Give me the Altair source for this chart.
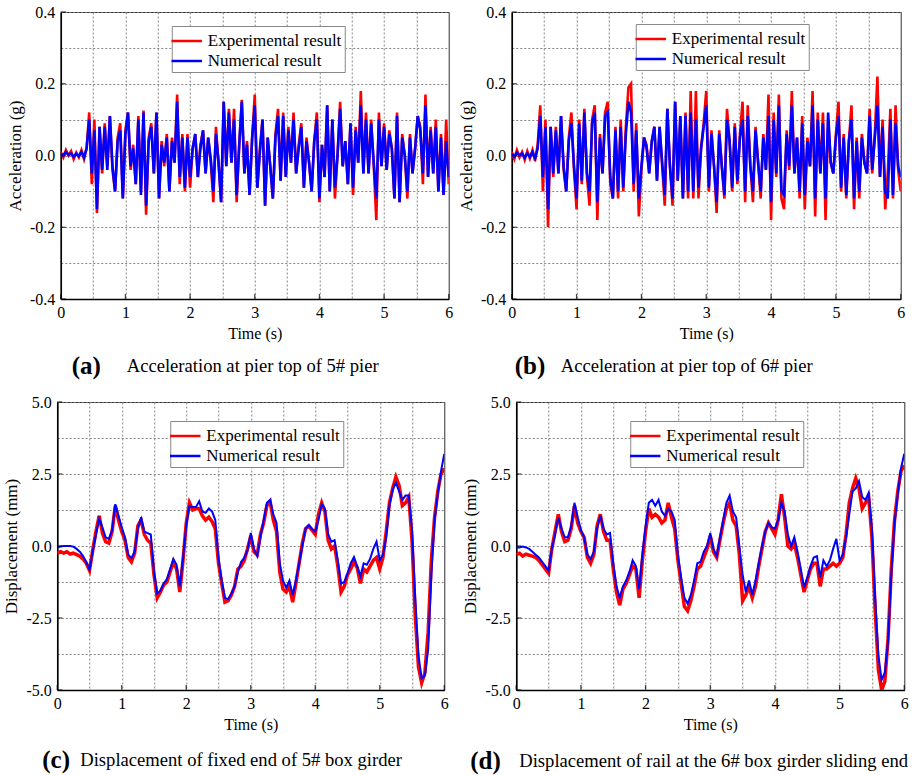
import altair as alt
import numpy as np
import pandas as pd

FONT = "Liberation Serif"
SERIES = ["Experimental result", "Numerical result"]
COLORS = ["#ff0000", "#0000ff"]

# sampling grids (s)
ACC_T = np.round(np.arange(151) * 0.04, 2)
DISP_T = np.round(np.arange(121) * 0.05, 2)

# pier-top acceleration of 5# pier (g)
ACC5_EXP = [
    0.010, -0.005, 0.015, 0.000, 0.012, -0.010, 0.008, -0.005, 0.015, -0.010,
    0.020, 0.120, -0.080, 0.100, -0.160, 0.080, -0.050, 0.090, -0.030, 0.110,
    -0.040, -0.100, 0.050, 0.090, -0.120, 0.070, 0.120, -0.040, 0.030, -0.080,
    0.110, -0.100, 0.125, -0.165, 0.050, 0.090, -0.050, 0.120, -0.120, 0.040,
    -0.030, 0.060, -0.100, 0.050, -0.020, 0.170, -0.080, 0.060, -0.100, 0.060,
    -0.090, 0.020, 0.060, -0.060, 0.030, 0.070, -0.050, 0.050, -0.020, -0.130,
    0.080, -0.020, -0.130, 0.150, -0.030, 0.130, -0.020, 0.130, -0.130, 0.030,
    0.155, -0.050, 0.040, -0.110, 0.050, 0.170, -0.090, 0.020, 0.100, -0.140,
    0.050, -0.030, -0.120, 0.060, 0.130, -0.070, 0.120, -0.060, 0.080, -0.020,
    0.120, -0.050, 0.030, 0.090, -0.090, 0.050, -0.020, -0.100, 0.040, 0.120,
    -0.130, 0.030, -0.060, 0.140, -0.100, 0.100, -0.120, 0.000, 0.150, -0.030,
    0.040, -0.080, 0.090, -0.110, 0.080, -0.020, 0.180, -0.050, 0.120, -0.050,
    0.100, -0.030, -0.180, 0.120, -0.030, 0.090, -0.040, 0.070, 0.020, -0.120,
    0.120, -0.130, 0.060, 0.000, -0.120, 0.060, -0.050, 0.020, 0.110, 0.080,
    -0.080, 0.170, -0.060, 0.080, -0.050, 0.100, -0.100, 0.060, -0.110, 0.100,
    -0.080,
]
ACC5_NUM = [
    0.005, 0.000, 0.010, 0.002, 0.006, -0.004, 0.005, -0.002, 0.010, -0.005,
    0.020, 0.100, -0.050, 0.070, -0.150, 0.080, -0.040, 0.080, -0.040, 0.110,
    -0.030, -0.100, 0.040, 0.070, -0.120, 0.060, 0.120, -0.030, 0.020, -0.080,
    0.100, -0.110, 0.120, -0.140, 0.040, 0.080, -0.050, 0.120, -0.120, 0.030,
    -0.020, 0.050, -0.100, 0.040, -0.020, 0.150, -0.060, 0.050, -0.090, 0.050,
    -0.060, 0.020, 0.060, -0.060, 0.020, 0.070, -0.050, 0.050, -0.010, -0.100,
    0.060, -0.020, -0.130, 0.150, -0.030, 0.120, -0.020, 0.100, -0.110, 0.030,
    0.150, -0.050, 0.030, -0.110, 0.050, 0.140, -0.090, 0.010, 0.100, -0.140,
    0.050, -0.030, -0.120, 0.050, 0.110, -0.070, 0.110, -0.060, 0.070, -0.020,
    0.100, -0.050, 0.020, 0.080, -0.090, 0.040, -0.020, -0.100, 0.040, 0.100,
    -0.120, 0.030, -0.060, 0.140, -0.100, 0.100, -0.090, 0.000, 0.130, -0.030,
    0.040, -0.080, 0.090, -0.090, 0.070, -0.020, 0.140, -0.050, 0.100, -0.050,
    0.090, -0.020, -0.120, 0.100, -0.030, 0.080, -0.040, 0.060, 0.020, -0.120,
    0.110, -0.130, 0.050, 0.000, -0.100, 0.050, -0.050, 0.020, 0.110, 0.070,
    -0.050, 0.140, -0.060, 0.070, -0.050, 0.080, -0.100, 0.050, -0.110, 0.040,
    -0.060,
]

# pier-top acceleration of 6# pier (g)
ACC6_EXP = [
    0.010, -0.010, 0.015, -0.005, 0.010, -0.012, 0.012, -0.008, 0.015, -0.015,
    0.030, 0.140, -0.100, 0.100, -0.200, 0.080, -0.060, 0.080, -0.050, 0.110,
    -0.040, -0.100, 0.050, 0.120, -0.040, -0.150, 0.100, -0.080, 0.130, -0.060,
    -0.140, 0.100, 0.140, -0.180, 0.060, -0.050, 0.120, 0.150, -0.080, -0.120,
    0.080, -0.120, 0.100, -0.100, 0.080, 0.190, 0.200, -0.100, 0.090, -0.170,
    -0.040, 0.050, 0.030, -0.050, 0.040, 0.080, -0.070, 0.080, -0.030, -0.140,
    0.130, -0.030, -0.140, 0.150, -0.070, 0.110, -0.120, 0.120, -0.120, 0.180,
    -0.120, 0.180, -0.120, 0.020, 0.090, 0.180, -0.100, 0.070, -0.030, -0.160,
    0.070, -0.030, -0.120, 0.130, 0.040, -0.100, 0.090, -0.080, 0.060, 0.150,
    -0.130, 0.140, -0.030, -0.130, 0.080, -0.020, -0.120, 0.060, -0.040, 0.170,
    -0.180, 0.120, -0.060, 0.170, -0.120, -0.150, 0.070, -0.040, 0.180, -0.050,
    0.050, -0.120, 0.110, -0.150, 0.050, -0.030, 0.180, -0.170, 0.120, -0.050,
    0.120, -0.180, 0.100, -0.020, -0.050, 0.060, 0.150, -0.100, 0.060, -0.120,
    0.040, 0.140, -0.150, 0.050, -0.120, 0.060, -0.020, -0.050, 0.130, -0.050,
    0.060, 0.220, -0.060, 0.100, -0.150, -0.050, 0.130, -0.120, 0.140, -0.040,
    -0.100,
]
ACC6_NUM = [
    0.005, -0.003, 0.008, 0.000, 0.006, -0.006, 0.006, -0.004, 0.010, -0.008,
    0.020, 0.110, -0.060, 0.080, -0.150, 0.080, -0.050, 0.070, -0.050, 0.110,
    -0.030, -0.100, 0.040, 0.090, -0.030, -0.120, 0.090, -0.070, 0.120, -0.050,
    -0.100, 0.090, 0.120, -0.130, 0.050, -0.050, 0.110, 0.120, -0.060, -0.120,
    0.070, -0.100, 0.080, -0.090, 0.060, 0.150, 0.120, -0.080, 0.070, -0.120,
    -0.030, 0.050, 0.020, -0.050, 0.040, 0.080, -0.070, 0.080, -0.020, -0.110,
    0.130, -0.030, -0.120, 0.150, -0.070, 0.110, -0.120, 0.110, -0.100, 0.120,
    -0.100, 0.100, -0.090, 0.020, 0.080, 0.140, -0.090, 0.060, -0.030, -0.130,
    0.060, -0.030, -0.110, 0.100, 0.040, -0.090, 0.080, -0.070, 0.050, 0.100,
    -0.100, 0.110, -0.030, -0.100, 0.070, -0.020, -0.100, 0.050, -0.040, 0.110,
    -0.130, 0.100, -0.050, 0.140, -0.100, -0.110, 0.060, -0.030, 0.140, -0.050,
    0.050, -0.100, 0.090, -0.110, 0.040, -0.030, 0.140, -0.120, 0.100, -0.050,
    0.090, -0.120, 0.120, -0.020, -0.050, 0.050, 0.110, -0.090, 0.050, -0.110,
    0.040, 0.100, -0.120, 0.040, -0.100, 0.050, -0.020, -0.050, 0.110, -0.040,
    0.050, 0.140, -0.060, 0.080, -0.100, -0.120, 0.100, -0.110, 0.090, -0.030,
    -0.060,
]

# displacement of fixed end of 5# box girder (mm)
DISP5_EXP = [
    -0.25, -0.20, -0.25, -0.20, -0.28, -0.25, -0.30, -0.35, -0.45, -0.60,
    -0.85, -0.15, 0.50, 1.05, 0.45, 0.15, 0.10, 0.50, 1.40, 0.90,
    0.50, 0.20, -0.40, -0.55, -0.25, 0.70, 0.90, 0.40, 0.20, 0.10,
    -1.00, -1.80, -1.60, -1.35, -1.25, -0.90, -0.55, -0.80, -1.60, -0.50,
    0.80, 1.50, 1.25, 1.30, 1.30, 1.05, 0.90, 1.00, 0.85, 0.60,
    -0.60, -1.30, -1.95, -1.90, -1.70, -1.40, -0.80, -0.70, -0.50, -0.10,
    0.35, -0.20, -0.30, 0.40, 0.80, 1.40, 1.55, 0.90, 0.50, -0.90,
    -1.50, -1.60, -1.40, -1.95, -1.30, -0.60, 0.10, 0.60, 0.70, 0.55,
    0.40, 1.10, 1.50, 1.20, 0.20, -0.10, 0.00, -0.70, -1.60, -1.40,
    -1.00, -0.80, -0.55, -0.75, -1.30, -0.80, -0.90, -0.70, -0.50, -0.40,
    -0.80, -0.40, 0.50, 1.50, 2.00, 2.40, 2.10, 1.40, 1.50, 1.70,
    0.20, -2.40, -4.20, -4.75, -4.40, -3.00, -0.50, 1.00, 1.90, 2.50,
    2.70,
]
DISP5_NUM = [
    -0.05, -0.02, 0.00, 0.00, 0.00, -0.02, -0.10, -0.20, -0.35, -0.55,
    -0.82, -0.20, 0.40, 0.95, 0.65, 0.30, 0.25, 0.55, 1.45, 1.05,
    0.65, 0.30, -0.30, -0.42, -0.20, 0.60, 1.00, 0.50, 0.45, 0.40,
    -0.90, -1.65, -1.55, -1.30, -1.15, -0.80, -0.45, -0.65, -1.40, -0.40,
    0.70, 1.40, 1.35, 1.35, 1.55, 1.20, 1.15, 1.30, 1.20, 0.90,
    -0.40, -1.20, -1.80, -1.85, -1.65, -1.40, -0.90, -0.55, -0.40, -0.15,
    0.45, -0.10, -0.35, 0.30, 0.90, 1.50, 1.60, 1.10, 0.80, -0.60,
    -1.20, -1.45, -1.20, -1.70, -1.20, -0.60, 0.00, 0.60, 0.72, 0.60,
    0.50, 0.90, 1.45, 1.30, 0.40, 0.15, 0.20, -0.50, -1.30, -1.25,
    -0.95, -0.60, -0.38, -0.70, -1.05, -0.60, -0.65, -0.45, -0.10, 0.15,
    -0.50, -0.30, 0.30, 1.40, 1.95, 2.20, 1.90, 1.60, 1.75, 1.75,
    0.60, -1.80, -3.80, -4.60, -4.50, -3.60, -1.00, 0.90, 1.80, 2.60,
    3.20,
]

# displacement of rail at the 6# box girder sliding end (mm)
DISP6_EXP = [
    -0.30, -0.25, -0.35, -0.28, -0.32, -0.35, -0.40, -0.50, -0.65, -0.80,
    -0.95, -0.10, 0.50, 1.10, 0.50, 0.15, 0.20, 0.60, 1.40, 0.80,
    0.50, 0.30, -0.40, -0.60, -0.30, 0.70, 1.10, 0.50, 0.20, 0.20,
    -0.80, -1.60, -2.05, -1.50, -1.30, -1.00, -0.70, -0.80, -1.80, -0.50,
    0.50, 1.30, 1.00, 1.10, 1.00, 0.80, 0.90, 1.50, 1.00, 0.60,
    -0.50, -1.30, -2.10, -2.25, -1.90, -1.40, -0.80, -0.70, -0.40, -0.10,
    0.35, -0.20, -0.40, 0.20, 0.80, 1.30, 1.50, 0.90, 0.70, -0.30,
    -1.90, -1.70, -1.40, -1.80, -1.40, -0.70, -0.10, 0.50, 0.80, 0.60,
    0.40, 0.90, 1.80, 1.00, 0.00, -0.10, 0.10, -0.40, -1.00, -1.60,
    -1.20, -0.80, -0.60, -0.60, -1.40, -0.80, -0.80, -0.70, -0.60, -0.70,
    -0.60, -0.40, 0.40, 1.50, 2.00, 2.35, 2.00, 1.30, 1.50, 1.70,
    0.30, -2.20, -4.30, -5.00, -4.70, -3.20, -0.80, 0.90, 1.90, 2.60,
    2.80,
]
DISP6_NUM = [
    -0.05, -0.05, -0.02, -0.05, -0.10, -0.20, -0.30, -0.40, -0.55, -0.70,
    -0.85, -0.10, 0.40, 1.00, 0.60, 0.30, 0.30, 0.70, 1.50, 1.00,
    0.55, 0.30, -0.30, -0.45, -0.20, 0.60, 1.05, 0.60, 0.40, 0.45,
    -0.60, -1.40, -1.80, -1.40, -1.20, -0.90, -0.50, -0.70, -1.50, -0.30,
    0.70, 1.50, 1.60, 1.40, 1.60, 1.20, 1.05, 1.30, 1.20, 0.90,
    -0.30, -1.10, -1.80, -2.00, -1.70, -1.20, -0.60, -0.55, -0.20, 0.00,
    0.45, -0.10, -0.35, 0.30, 0.90, 1.50, 1.75, 1.20, 1.00, 0.00,
    -1.00, -1.60, -1.20, -1.70, -1.20, -0.60, 0.00, 0.50, 0.80, 0.65,
    0.60, 0.90, 1.50, 1.20, 0.40, 0.00, 0.30, -0.20, -0.80, -1.45,
    -1.10, -0.70, -0.40, -0.35, -1.10, -0.50, -0.70, -0.50, -0.10, 0.25,
    -0.50, -0.30, 0.30, 1.10, 1.90, 2.00, 2.25, 1.70, 1.60, 1.85,
    0.60, -1.80, -3.80, -4.65, -4.40, -3.30, -1.00, 0.80, 1.80, 2.70,
    3.20,
]

# grid lines every half step, labelled/ticked on whole steps
X_GRID = [0, 0.5, 1, 1.5, 2, 2.5, 3, 3.5, 4, 4.5, 5, 5.5, 6]
X_TICKS = [0, 1, 2, 3, 4, 5, 6]
ACC_GRID = [-0.4, -0.3, -0.2, -0.1, 0.0, 0.1, 0.2, 0.3, 0.4]
ACC_TICKS = [-0.4, -0.2, 0.0, 0.2, 0.4]
DISP_GRID = [-5.0, -3.75, -2.5, -1.25, 0.0, 1.25, 2.5, 3.75, 5.0]
DISP_TICKS = [-5.0, -2.5, 0.0, 2.5, 5.0]


def frame(t, exp, num):
    n = len(t)
    return pd.DataFrame({
        "t": np.concatenate([t, t]),
        "v": list(exp) + list(num),
        "series": [SERIES[0]] * n + [SERIES[1]] * n,
    })


def panel(df, ytitle, ydom, ygrid, yticks, ylabel_expr, w, h, exp_w, num_w,
          leg_xy, tag, caption, tag_xy, cap_xy):
    color = alt.Color(
        "series:N",
        scale=alt.Scale(domain=SERIES, range=COLORS),
        legend=alt.Legend(
            title=None, orient="none", legendX=leg_xy[0], legendY=leg_xy[1],
            direction="vertical", symbolType="M-1.45,0H1.45", symbolSize=441,
            symbolStrokeWidth=2.5, labelFont=FONT, labelFontSize=17,
            labelColor="black", labelOffset=9, strokeColor="#888888",
            fillColor="white", padding=3, rowPadding=0, labelLimit=400,
        ),
    )
    x = alt.X(
        "t:Q",
        scale=alt.Scale(domain=[0, 6], nice=False, zero=False),
        axis=alt.Axis(
            values=X_GRID, title="Time (s)", labelFlush=False, labelOverlap=False,
            labelExpr="datum.value % 1 === 0 ? format(datum.value, 'd') : ''",
            labelPadding=5, titlePadding=5,
        ),
    )
    y = alt.Y(
        "v:Q",
        scale=alt.Scale(domain=ydom, nice=False, zero=False),
        axis=alt.Axis(
            values=ygrid, title=ytitle, labelFlush=False, labelOverlap=False,
            labelExpr=ylabel_expr, labelPadding=6, titlePadding=5,
            titleFontSize=17,
        ),
    )
    base = alt.Chart(df).encode(x=x, y=y, color=color)
    exp = base.transform_filter(alt.datum.series == SERIES[0]).mark_line(
        strokeWidth=exp_w, clip=True)
    num = base.transform_filter(alt.datum.series == SERIES[1]).mark_line(
        strokeWidth=num_w, clip=True)
    # short inward ticks on the bottom and left frame
    xtick = alt.Chart(pd.DataFrame({"t": X_TICKS})).mark_tick(
        orient="vertical", size=5, thickness=1.3, color="black", yOffset=-2.5,
    ).encode(x=x, y=alt.value(h))
    ytick = alt.Chart(pd.DataFrame({"v": yticks})).mark_tick(
        orient="horizontal", size=5, thickness=1.3, color="black", xOffset=2.5,
    ).encode(y=y, x=alt.value(0))
    tag_mark = alt.Chart(pd.DataFrame({"s": [tag]})).mark_text(
        font=FONT, fontSize=25, fontWeight="bold", align="left",
        baseline="middle", color="black",
    ).encode(text="s:N", x=alt.value(tag_xy[0]), y=alt.value(tag_xy[1]))
    cap_mark = alt.Chart(pd.DataFrame({"s": [caption]})).mark_text(
        font=FONT, fontSize=18.6, align="left", baseline="middle", color="black",
    ).encode(text="s:N", x=alt.value(cap_xy[0]), y=alt.value(cap_xy[1]))
    return alt.layer(exp, num, xtick, ytick, tag_mark, cap_mark).properties(
        width=w, height=h)


# labels only on every other grid line, with a plain hyphen for negatives
acc_lbl = ("round(datum.value * 10) % 2 === 0 ? "
           "(datum.value < 0 ? '-' : '') + format(abs(datum.value), '.1f') : ''")
disp_lbl = ("round(datum.value / 1.25) % 2 === 0 ? "
            "(datum.value < 0 ? '-' : '') + format(abs(datum.value), '.1f') : ''")

pa = panel(frame(ACC_T, ACC5_EXP, ACC5_NUM), "Acceleration (g)", [-0.4, 0.4],
           ACC_GRID, ACC_TICKS, acc_lbl, 388, 287, 2.6, 2.6, (111, 14), "(a)",
           "Acceleration at pier top of 5# pier", (11, 354), (66, 354))
pb = panel(frame(ACC_T, ACC6_EXP, ACC6_NUM), "Acceleration (g)", [-0.4, 0.4],
           ACC_GRID, ACC_TICKS, acc_lbl, 389, 287, 2.6, 2.6, (124, 12), "(b)",
           "Acceleration at pier top of 6# pier", (3, 354), (49, 354))
pc = panel(frame(DISP_T, DISP5_EXP, DISP5_NUM), "Displacement (mm)", [-5, 5],
           DISP_GRID, DISP_TICKS, disp_lbl, 387, 288, 3.5, 2, (113, 19), "(c)",
           "Displacement of fixed end of 5# box girder", (-15, 358), (23, 358))
pd_ = panel(frame(DISP_T, DISP6_EXP, DISP6_NUM), "Displacement (mm)", [-5, 5],
            DISP_GRID, DISP_TICKS, disp_lbl, 388, 288, 3.5, 2, (114, 19), "(d)",
            "Displacement of rail at the 6# box girder sliding end", (-46, 359), (3, 359))

row1 = alt.hconcat(pa, pb, spacing=3).resolve_scale(color="independent").resolve_legend(color="independent")
row2 = alt.hconcat(pc, pd_, spacing=12).resolve_scale(color="independent").resolve_legend(color="independent")

chart = (
    alt.vconcat(row1, row2, spacing=13, center=True)
    .resolve_scale(color="independent")
    .resolve_legend(color="independent")
    .properties(padding={"left": 2, "top": 3, "right": 0, "bottom": 0}, background="white")
    .configure_view(stroke="#333333", strokeWidth=1)
    .configure_axis(
        domainColor="black", domainWidth=1.6, grid=True, gridColor="#777777",
        gridDash=[2, 2], gridWidth=0.9, ticks=False,
        labelFont=FONT, labelFontSize=16, labelColor="black",
        titleFont=FONT, titleFontSize=16, titleFontWeight="normal", titleColor="black",
    )
)

chart.save("out.html", embed_options={"renderer": "svg", "actions": False})
